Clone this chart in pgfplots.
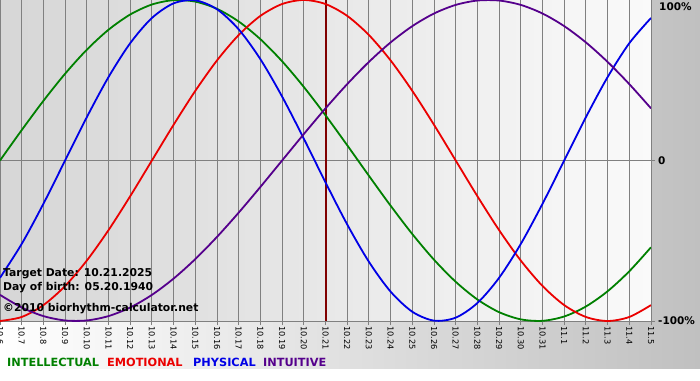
\documentclass[border=0pt]{standalone}
\usepackage{pgfplots}
\pgfplotsset{compat=1.18}
\usepackage{fontspec}
\setmainfont{DejaVu Sans}
\definecolor{intel}{RGB}{0,128,0}
\definecolor{emo}{RGB}{235,0,0}
\definecolor{phys}{RGB}{0,0,230}
\definecolor{intu}{RGB}{85,0,140}
\definecolor{target}{RGB}{128,0,0}
\definecolor{gridc}{RGB}{128,128,128}
\definecolor{outerr}{RGB}{192,192,192}
\definecolor{plotl}{RGB}{214,214,214}
\definecolor{plotr}{RGB}{250,250,250}
\begin{document}
\begin{tikzpicture}[x=1pt,y=1pt]
\useasboundingbox (0,0) rectangle (700,380);
\clip (0,0) rectangle (700,380);
\shade[left color=white, right color=outerr] (0,11) rectangle (700,380);
\fill[white] (0,0) rectangle (700,11);
\begin{axis}[at={(0pt,219.5pt)}, anchor=origin, scale only axis,
  width=651pt, height=321pt,
  xmin=0, xmax=30, ymin=-1, ymax=1,
  axis background/.style={left color=plotl, right color=plotr},
  axis line style={draw=none},
  xtick={0,...,30},
  xticklabels={10.6,10.7,10.8,10.9,10.10,10.11,10.12,10.13,10.14,10.15,10.16,10.17,10.18,10.19,10.20,10.21,10.22,10.23,10.24,10.25,10.26,10.27,10.28,10.29,10.30,10.31,11.1,11.2,11.3,11.4,11.5},
  ytick={-1,0}, yticklabels={-100\%,0},
  xtick pos=bottom, ytick pos=right, yticklabel pos=right,
  xmajorgrids, ymajorgrids, grid style={gridc, line width=1pt},
  tick align=outside, major tick length=4pt, tick style={gridc, line width=1pt},
  /pgf/number format/assume math mode=true,
  xticklabel style={rotate=-90, anchor=west, font=\fontsize{8.2}{9}\selectfont, inner sep=1pt},
  yticklabel style={anchor=west, font=\bfseries\fontsize{10.5}{12}\selectfont, inner sep=0pt, xshift=3pt},
  clip=true,
]
\addplot[target, line width=2pt] coordinates {(15,-1) (15,1)};
% Intellectual (33 days)
\addplot[intel, line width=1.8pt, smooth] coordinates {
(0,0) (1,0.1893) (2,0.3717) (3,0.5406) (4,0.6901) (5,0.8146) (6,0.9096) (7,0.9718)
(8,0.9989) (9,0.9898) (10,0.9450) (11,0.8660) (12,0.7557) (13,0.6182) (14,0.4582)
(15,0.2817) (16,0.0951) (17,-0.0951) (18,-0.2817) (19,-0.4582) (20,-0.6182)
(21,-0.7557) (22,-0.8660) (23,-0.9450) (24,-0.9898) (25,-0.9989) (26,-0.9718)
(27,-0.9096) (28,-0.8146) (29,-0.6901) (30,-0.5406)};
% Emotional (28 days)
\addplot[emo, line width=1.8pt, smooth] coordinates {
(0,-1) (1,-0.9749) (2,-0.9010) (3,-0.7818) (4,-0.6235) (5,-0.4339) (6,-0.2225)
(7,0) (8,0.2225) (9,0.4339) (10,0.6235) (11,0.7818) (12,0.9010) (13,0.9749)
(14,1) (15,0.9749) (16,0.9010) (17,0.7818) (18,0.6235) (19,0.4339) (20,0.2225)
(21,0) (22,-0.2225) (23,-0.4339) (24,-0.6235) (25,-0.7818) (26,-0.9010)
(27,-0.9749) (28,-1) (29,-0.9749) (30,-0.9010)};
% Physical (23 days)
\addplot[phys, line width=1.8pt, smooth] coordinates {
(0,-0.7308) (1,-0.5196) (2,-0.2698) (3,0) (4,0.2698) (5,0.5196) (6,0.7308)
(7,0.8879) (8,0.9791) (9,0.9977) (10,0.9423) (11,0.8170) (12,0.6310) (13,0.3984)
(14,0.1362) (15,-0.1362) (16,-0.3984) (17,-0.6310) (18,-0.8170) (19,-0.9423)
(20,-0.9977) (21,-0.9791) (22,-0.8879) (23,-0.7308) (24,-0.5196) (25,-0.2698)
(26,0) (27,0.2698) (28,0.5196) (29,0.7308) (30,0.8879)};
% Intuitive (38 days)
\addplot[intu, line width=1.8pt, smooth] coordinates {
(0,-0.8372) (1,-0.9158) (2,-0.9694) (3,-0.9966) (4,-0.9966) (5,-0.9694) (6,-0.9158)
(7,-0.8372) (8,-0.7357) (9,-0.6142) (10,-0.4759) (11,-0.3247) (12,-0.1646) (13,0)
(14,0.1646) (15,0.3247) (16,0.4759) (17,0.6142) (18,0.7357) (19,0.8372) (20,0.9158)
(21,0.9694) (22,0.9966) (23,0.9966) (24,0.9694) (25,0.9158) (26,0.8372) (27,0.7357)
(28,0.6142) (29,0.4759) (30,0.3247)};
\end{axis}
\node[anchor=west, font=\bfseries\fontsize{10.5}{12}\selectfont, inner sep=0pt] at (659,373) {100\%};
\node[anchor=base west, font=\bfseries\fontsize{10.8}{12}\selectfont, inner sep=0pt] at (3,103) {Target Date: 10.21.2025};
\node[anchor=base west, font=\bfseries\fontsize{10.8}{12}\selectfont, inner sep=0pt] at (3,89.5) {Day of birth: 05.20.1940};
\node[anchor=base west, font=\bfseries\fontsize{10.8}{12}\selectfont, inner sep=0pt] at (3,69) {©2010 biorhythm-calculator.net};
\node[anchor=base west, font=\bfseries\fontsize{11.3}{13}\selectfont, inner sep=0pt, text=intel] at (7,14) {INTELLECTUAL};
\node[anchor=base west, font=\bfseries\fontsize{11.3}{13}\selectfont, inner sep=0pt, text=emo] at (107,14) {EMOTIONAL};
\node[anchor=base west, font=\bfseries\fontsize{11.3}{13}\selectfont, inner sep=0pt, text=phys] at (193,14) {PHYSICAL};
\node[anchor=base west, font=\bfseries\fontsize{11.3}{13}\selectfont, inner sep=0pt, text=intu] at (263,14) {INTUITIVE};
\end{tikzpicture}
\end{document}
